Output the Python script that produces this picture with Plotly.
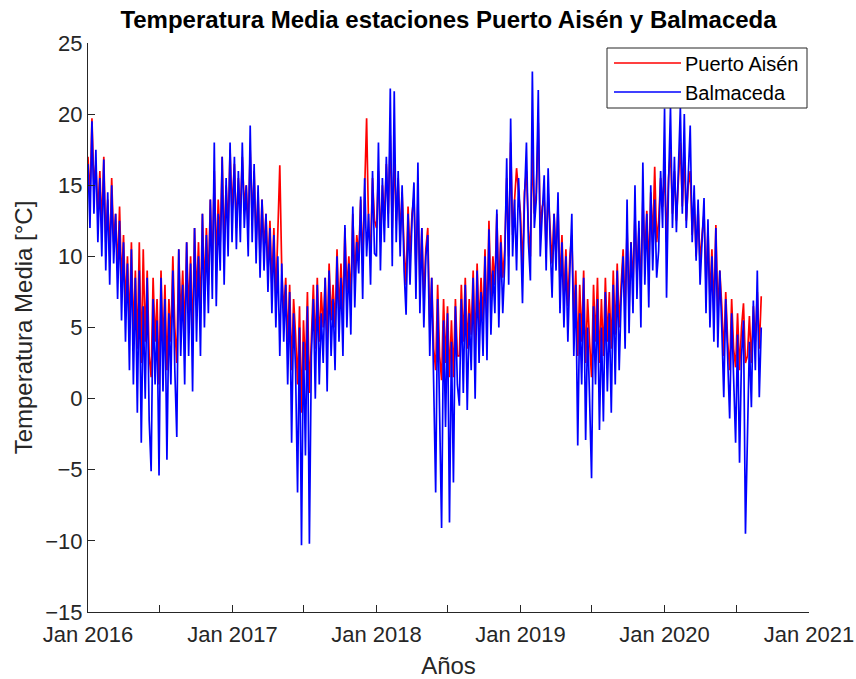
import pandas as pd
import plotly.graph_objects as go

# Mean daily temperature (°C), sampled every 5 days starting on Jan 1 of each year
aisen_2016 = [17, 14, 19.7, 15, 16.5, 13, 16, 12, 17, 11, 14, 10, 15.5, 11, 13, 9, 13.5, 8, 11.5, 6.5,
              10, 5, 11, 4.5, 9, 3.5, 11, 2.5, 10.5, 4, 9, 3, 1.5, 8.5, 4, 7, 1, 9, 3.5, 8,
              2, 7, 4, 10, 5, 2.5, 10.5, 5.5, 9, 4.5, 11, 6, 10, 4, 12, 7, 11, 6, 13, 7.5,
              12, 8, 14, 9, 16, 9.5, 14, 11, 17, 10.5, 15, 12, 17.5, 13]
aisen_2017 = [14, 16.5, 12, 15.5, 13, 17, 13.5, 15, 12, 17.5, 12.5, 16, 11, 14.5, 10, 14, 10.5, 13, 9, 12.5,
              8, 12, 7, 11, 16.4, 9, 6, 8.5, 4, 8, 2, 7, 4.5, 1, 6.5, -1, 5.5, 2, 7.5, 0.4,
              5, 8, 3.5, 8.5, 4, 7.5, 5, 8.5, 4, 9.5, 5.5, 8, 5, 10.5, 6, 9.5, 6, 12, 7.5, 10,
              7, 13, 8.5, 11.5, 10, 14, 9.5, 15, 19.7, 12, 10.5, 15.5, 12.5]
aisen_2018 = [12, 16, 11, 15, 12.5, 16.5, 13, 18.5, 12, 17, 12.5, 15.5, 11.5, 14.5, 10.5, 8, 13.5, 10, 13, 14.2,
              9, 14, 8, 12, 7, 10.5, 12, 5, 8.5, 3.5, 2, 8, 3, 1.3, 7, 2.5, 6.5, 1.5, 5.5, 1.5,
              7, 3, 3, 8, 4, 8.5, 3.5, 7, 4.5, 9, 3.5, 9.5, 5, 8.5, 5.5, 10.5, 5, 12.5, 7, 10,
              8, 13, 7.5, 11.5, 8.5, 10.5, 15.5, 10, 18, 11.5, 14, 16.2, 14.5]
aisen_2019 = [13, 9, 14.5, 16, 12, 10, 17.5, 13, 14.5, 19.4, 12, 13.5, 14, 10.5, 14.5, 12, 9.5, 13, 10, 13.5,
              8, 11.5, 7, 10.5, 6.5, 10, 11.5, 5.5, 9, 3, 8, 4, 9, 2.5, 7, 4, 1.5, 8, 4, 8.5,
              2.5, 7, 3, 8.5, 4, 7.5, 3.5, 9, 4.5, 9.5, 5, 8, 10.5, 6, 12, 6.5, 11, 8, 13, 8.5,
              12, 7.5, 14, 10, 13.2, 9, 14.5, 11, 16.3, 11, 12.5, 15.5, 13.5]
aisen_2020 = [16, 11, 15.5, 17.5, 13, 16, 12.5, 15.5, 18, 13.5, 17, 12.5, 15, 16, 11.5, 14, 10, 13.5, 9.5, 11.5,
              13, 8, 12, 7, 10.5, 6, 12.2, 6, 9, 6.5, 3, 7.5, 4, 2, 7, 3.5, 2.2, 6, 2, 5,
              6.7, 2.5, 3, 5.8, 2.5, 6.5, 4, 7.5, 3.5, 7.2]

balmaceda_2016 = [16.5, 12, 19.5, 13, 17.5, 11, 15.5, 10, 16.8, 9, 14.5, 8, 15, 9.5, 13, 7, 12.5, 5.5, 11, 4,
                  9.5, 2, 10.5, 1, 8.5, -1, 9, -3.1, 6.5, 0, 8.5, -1.5, -5.1, 7, 1, 5.5, -5.4, 8.5, 0.5, 7,
                  -4.3, 6, 1, 9, 2, -2.7, 10.5, 3, 8, 1, 11, 3, 9.5, 0.5, 12, 4, 10, 3, 13, 5,
                  11.5, 6, 14, 7, 18, 6.5, 13, 9, 17, 8, 15.5, 10, 18, 11]
balmaceda_2017 = [12, 17, 10.5, 16, 11, 18, 12, 15, 10, 19.2, 11, 16.5, 9.5, 15, 8.5, 14, 9, 13, 7.5, 12,
                  6, 11.5, 5, 10, 3, 9.5, 4, 8, 1, 7.5, -3.1, 6, 2, -6.6, 5, -10.3, 4, -4, 6.5, -10.2,
                  3, 7, 0, 8, 1, 6, 2.5, 8.5, 0.5, 9, 3, 7, 2, 10, 4, 8.5, 3, 12.2, 5, 9.5,
                  4.5, 13.5, 6.4, 11, 8.8, 14.2, 7, 15.5, 10, 13, 8, 16, 10.2]
balmaceda_2018 = [10, 18, 9, 15.5, 11, 17, 12, 21.8, 9.3, 21.6, 11, 16, 10, 15, 9, 5.9, 13, 8, 12.5, 15.2,
                  7, 16.6, 6, 12, 5, 10, 11.5, 3, 8.5, 1, -6.6, 7, 0, -9.1, 5.5, -2, 6, -8.7, 4, -5.9,
                  6.5, 1, -0.5, 7, 0.4, 8, -0.8, 6, 2, 8.5, 0, 9, 2.5, 7.5, 3, 10, 2.7, 11.9, 4.5, 9,
                  6, 13.3, 5, 11, 6, 9.5, 16.9, 8, 19.7, 10, 14, 9, 15.5]
balmaceda_2019 = [12, 6.7, 14, 18, 11, 8.3, 23, 12, 14, 21.7, 10, 13, 15.7, 9, 16.2, 11, 7.1, 13, 9, 14.5,
                  6, 11, 5, 10, 4, 9, 13, 3, 8, -3.3, 6, 1, 8.5, -2.9, 5, 0, -5.6, 6.5, 1, 7,
                  -2.2, 5, -1.6, 7.5, 0.5, 6, -1, 8, 1, 9, 2, 7, 10, 3.5, 14, 4.6, 11, 6, 15, 7,
                  12.5, 5, 16.6, 8, 13, 6.4, 15, 9, 14, 8.5, 10.4, 16, 12]
balmaceda_2020 = [20.4, 7.1, 15, 20.5, 12, 17, 11.7, 16, 20.5, 13, 20, 12, 16, 19.2, 11, 15, 9.7, 14, 8, 11,
                  14.1, 6, 12.6, 5, 10, 4, 12, 3.6, 9, 5, 0.1, 7, 2, -1.4, 6, 1, -3.1, 4.5, -4.5, 3,
                  5.5, -9.5, -3.1, 4, -0.6, 6.9, 2, 9, 0.1, 5]

years = [2016, 2017, 2018, 2019, 2020]
aisen_by_year = [aisen_2016, aisen_2017, aisen_2018, aisen_2019, aisen_2020]
balmaceda_by_year = [balmaceda_2016, balmaceda_2017, balmaceda_2018, balmaceda_2019, balmaceda_2020]

# X-axis ticks every six months, labelled in January only
tick_dates = pd.date_range("2016-01-01", "2021-01-01", freq="6MS")
tick_labels = ["Jan 2016", "", "Jan 2017", "", "Jan 2018", "", "Jan 2019", "", "Jan 2020", "", "Jan 2021"]
y_ticks = [-15, -10, -5, 0, 5, 10, 15, 20, 25]


def build_series(chunks):
    dates, values = [], []
    for year, vals in zip(years, chunks):
        dates.extend(pd.date_range(f"{year}-01-01", periods=len(vals), freq="5D"))
        values.extend(vals)
    return dates, values


aisen_x, aisen_y = build_series(aisen_by_year)
balm_x, balm_y = build_series(balmaceda_by_year)

FONT = "Liberation Sans, Arial, sans-serif"
INK = "#262626"
LW = 1.7
W, H = 856, 679
L, R, T, B = 88, 47, 43, 67
PW, PH = W - L - R, H - T - B


def px(xp):
    return (xp - L) / PW


def py(yp):
    return (H - B - yp) / PH


fig = go.Figure()
fig.add_trace(go.Scatter(x=aisen_x, y=aisen_y, mode="lines", name="Puerto Aisén",
                         line=dict(color="#ff0000", width=LW), showlegend=False))
fig.add_trace(go.Scatter(x=balm_x, y=balm_y, mode="lines", name="Balmaceda",
                         line=dict(color="#0000ff", width=LW), showlegend=False))

# Legend box drawn over the data, MATLAB style
shapes = [
    dict(type="rect", xref="paper", yref="paper", x0=px(607), x1=px(807), y0=py(108), y1=py(48),
         fillcolor="white", line=dict(color=INK, width=1), layer="above"),
    dict(type="line", xref="paper", yref="paper", x0=px(614), x1=px(681), y0=py(63), y1=py(63),
         line=dict(color="#ff0000", width=1.3), layer="above"),
    dict(type="line", xref="paper", yref="paper", x0=px(614), x1=px(681), y0=py(92), y1=py(92),
         line=dict(color="#0000ff", width=1.3), layer="above"),
]
annotations = [
    dict(text="Puerto Aisén", xref="paper", yref="paper", x=px(683), y=py(64), xanchor="left",
         yanchor="middle", showarrow=False, font=dict(family=FONT, size=20, color="black")),
    dict(text="Balmaceda", xref="paper", yref="paper", x=px(683), y=py(93), xanchor="left",
         yanchor="middle", showarrow=False, font=dict(family=FONT, size=20, color="black")),
]

fig.update_layout(
    width=W, height=H,
    margin=dict(l=L, r=R, t=T, b=B),
    paper_bgcolor="white", plot_bgcolor="white",
    font=dict(family=FONT, color=INK),
    title=dict(text="Temperatura Media estaciones Puerto Aisén y Balmaceda",
               font=dict(family=FONT, size=24, color="black", weight="bold"),
               x=0.5, xref="paper", xanchor="center", y=1 - 20 / H, yanchor="middle"),
    shapes=shapes, annotations=annotations,
    showlegend=False,
)
fig.update_xaxes(
    type="date", range=["2016-01-01", "2021-01-01"], automargin=False,
    tickvals=tick_dates, ticktext=tick_labels, ticklabelstandoff=3,
    ticks="inside", ticklen=7, tickwidth=1, tickcolor=INK,
    showline=True, linecolor=INK, linewidth=1, showgrid=False, zeroline=False,
    tickfont=dict(family=FONT, size=22, color=INK),
    title=dict(text="Años", font=dict(family=FONT, size=24, color=INK), standoff=16),
)
fig.update_yaxes(
    range=[-15, 25], tickvals=y_ticks, automargin=False,
    ticks="inside", ticklen=7, tickwidth=1, tickcolor=INK,
    showline=True, linecolor=INK, linewidth=1, showgrid=False, zeroline=False,
    tickfont=dict(family=FONT, size=22, color=INK),
    title=dict(text="Temperatura Media [°C]", font=dict(family=FONT, size=24, color=INK), standoff=5),
)

fig.write_html("out.html")
